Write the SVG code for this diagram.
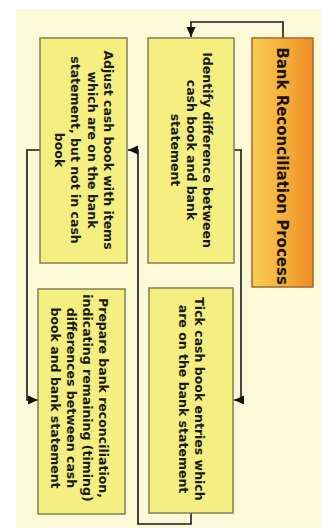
<svg xmlns="http://www.w3.org/2000/svg" width="321" height="531" viewBox="0 0 321 531">
<defs>
<linearGradient id="og" x1="0" y1="0" x2="1" y2="0">
<stop offset="0" stop-color="#f9cc55"/>
<stop offset="0.5" stop-color="#f6b03c"/>
<stop offset="1" stop-color="#ef8d24"/>
</linearGradient>
<marker id="ah" markerUnits="userSpaceOnUse" markerWidth="10" markerHeight="10" viewBox="0 0 10 10" refX="10" refY="5" orient="auto">
<path d="M0,0.5 L10,5 L0,9.5 Z" fill="#111"/>
</marker>
<style>
.box{fill:#f5ef82;stroke:#7f7f52;stroke-width:1.5}
.t{font-family:"DejaVu Sans",sans-serif;font-size:12.5px;font-weight:bold;fill:#1a1a10;text-anchor:middle}
.title{font-family:"DejaVu Sans",sans-serif;font-size:15px;font-weight:bold;fill:#1a1408;text-anchor:middle}
.c{fill:none;stroke:#1a1a1a;stroke-width:1.6}
</style>
</defs>
<rect x="0" y="0" width="321" height="531" fill="#ffffff"/>
<rect x="16" y="9" width="305" height="519" fill="#fcf9d8"/>
<g id="connectors">
<path class="c" d="M283,38 V22 H191 V37" marker-end="url(#ah)"/>
<path class="c" d="M234,150 H241 V400 H234" marker-end="url(#ah)"/>
<path class="c" d="M191,513 V524 H138 V150 H128" marker-end="url(#ah)"/>
<path class="c" d="M40,150 H27 V400 H38" marker-end="url(#ah)"/>
</g>
<g id="title">
<rect x="252" y="38" width="61" height="249" fill="url(#og)" stroke="#9a6a34" stroke-width="1.5"/>
<text class="title" transform="translate(277,166) rotate(90)">Bank Reconciliation Process</text>
</g>
<g id="identify">
<rect class="box" x="148" y="38" width="86" height="225"/>
<text class="t" transform="translate(203,150) rotate(90)"><tspan x="0" y="0">Identify difference between</tspan><tspan x="0" y="16">cash book and bank</tspan><tspan x="0" y="32">statement</tspan></text>
</g>
<g id="adjust">
<rect class="box" x="40" y="38" width="87" height="225"/>
<text class="t" transform="translate(104,150) rotate(90)"><tspan x="0" y="0">Adjust cash book with items</tspan><tspan x="0" y="16.5">which are on the bank</tspan><tspan x="0" y="33">statement, but not in cash</tspan><tspan x="0" y="49.5">book</tspan></text>
</g>
<g id="tick">
<rect class="box" x="149" y="288" width="84" height="225"/>
<text class="t" transform="translate(195,399) rotate(90)"><tspan x="0" y="0">Tick cash book entries which</tspan><tspan x="0" y="16">are on the bank statement</tspan></text>
</g>
<g id="prepare">
<rect class="box" x="38" y="289" width="87" height="225"/>
<text class="t" transform="translate(99,398) rotate(90)"><tspan x="0" y="0">Prepare bank reconciliation,</tspan><tspan x="0" y="16">indicating remaining (timing)</tspan><tspan x="0" y="32">differences between cash</tspan><tspan x="0" y="48">book and bank statement</tspan></text>
</g>
</svg>
